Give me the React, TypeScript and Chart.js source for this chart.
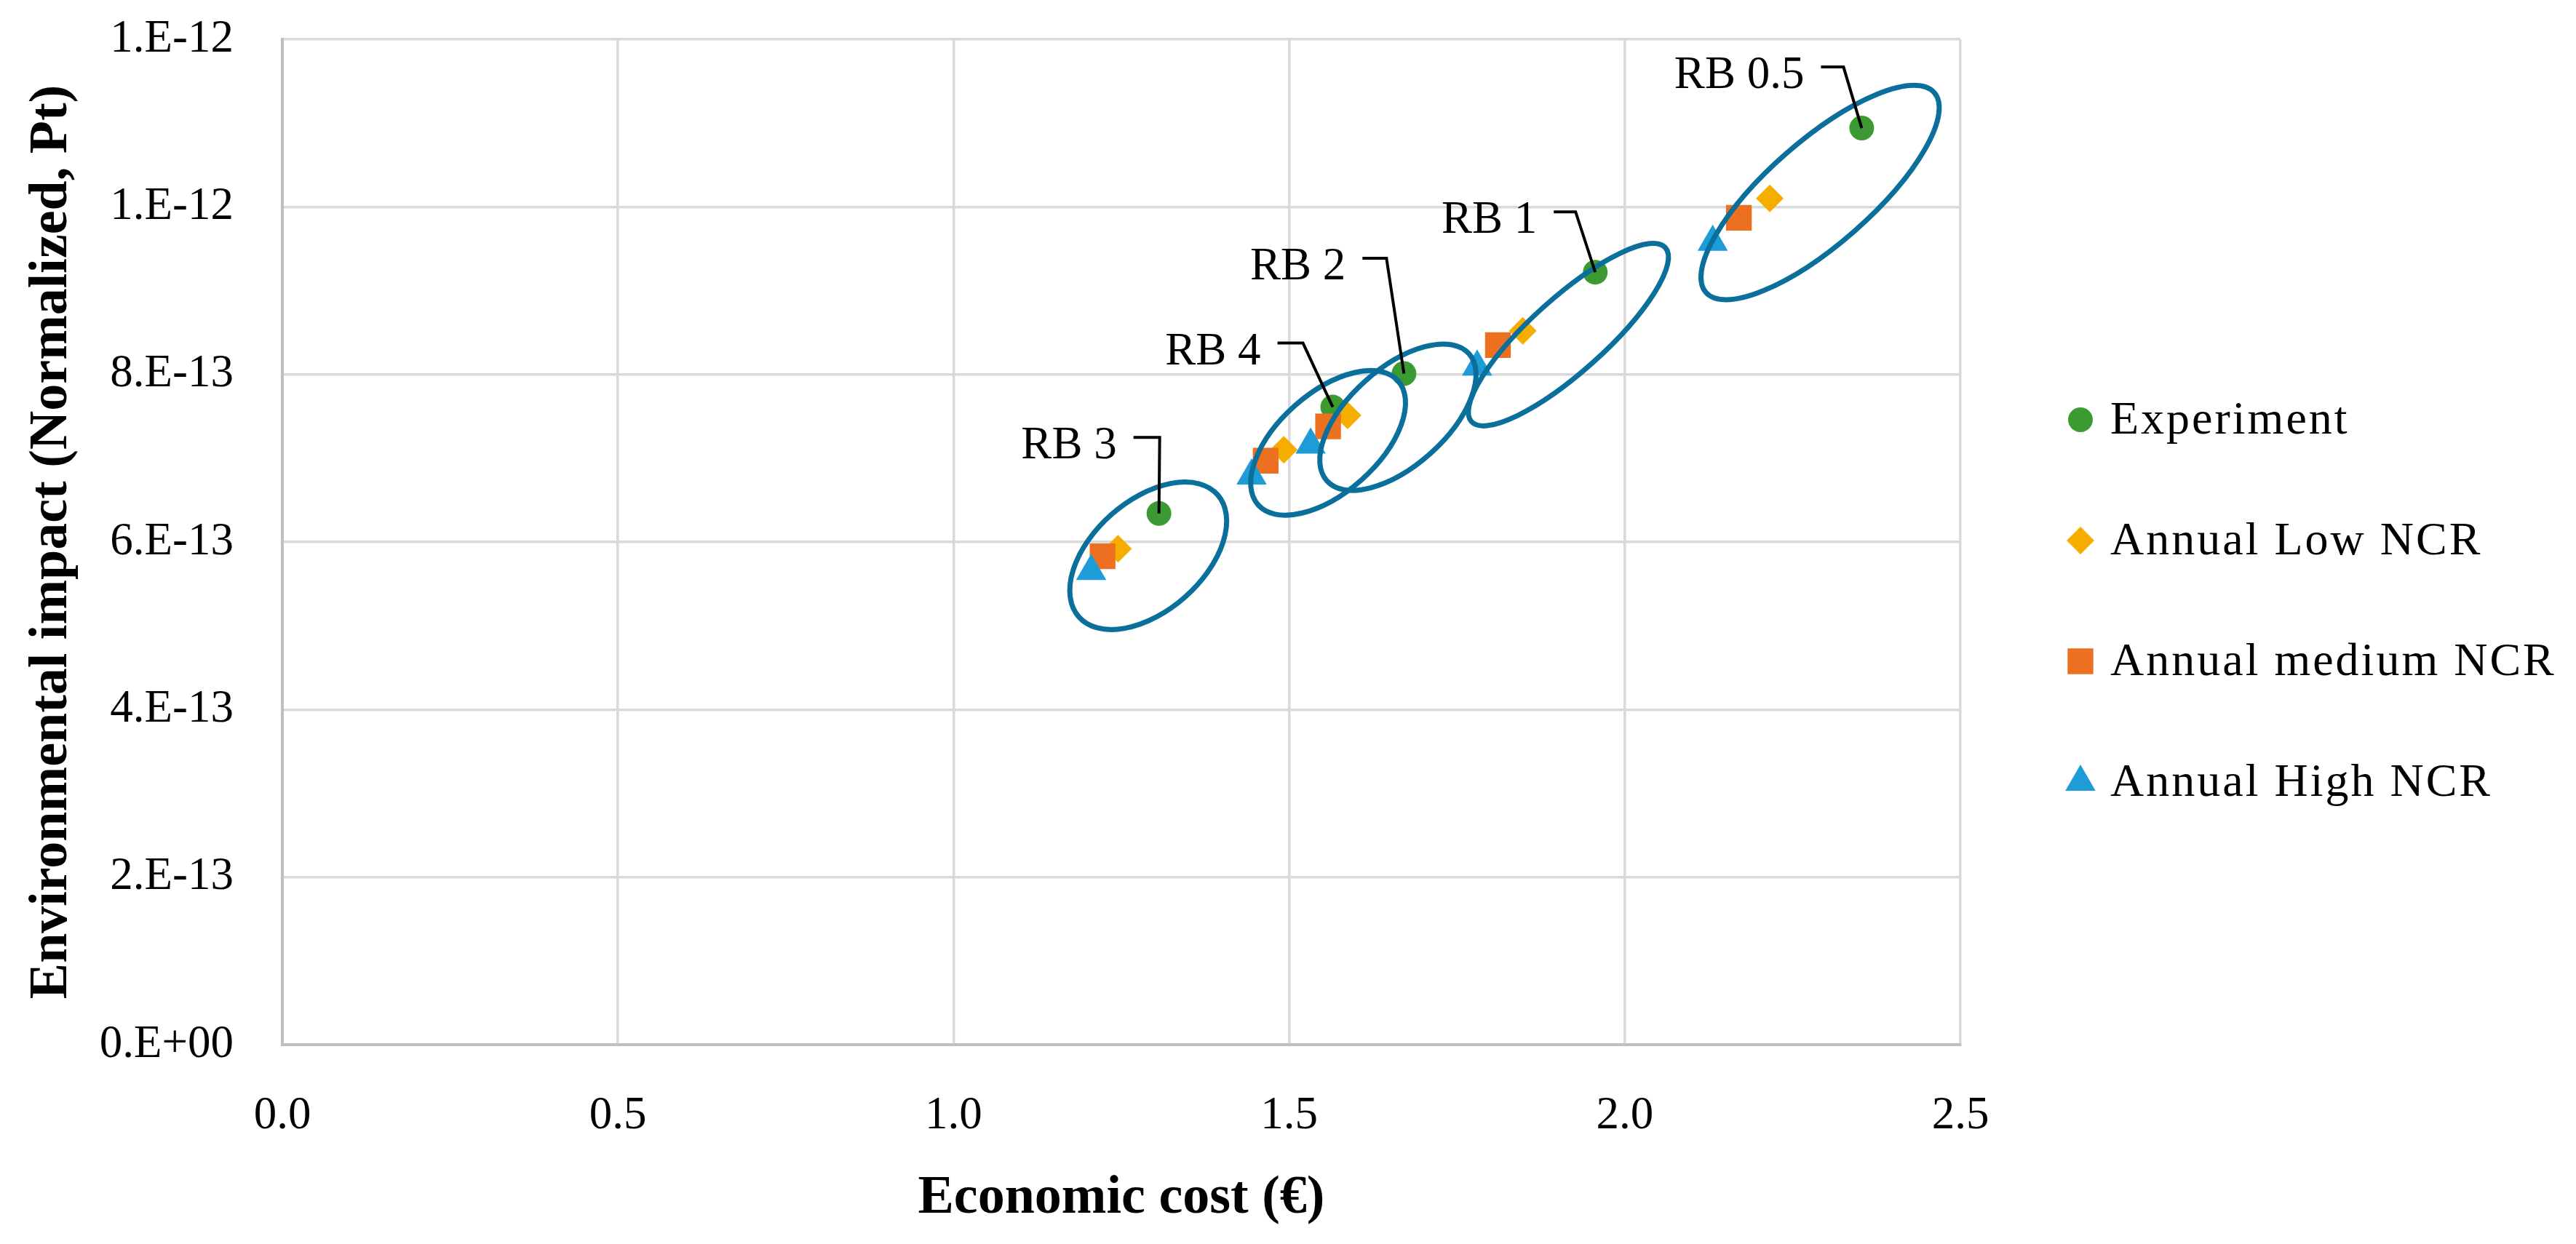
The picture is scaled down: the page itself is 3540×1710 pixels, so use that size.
import React, { useEffect, useRef } from 'react';
import { Chart, registerables } from 'chart.js';
import { drawPoint } from 'chart.js/helpers';

Chart.register(...registerables);

// ---------------- data ----------------
const groupLabels = ['RB 3', 'RB 4', 'RB 2', 'RB 1', 'RB 0.5'];

const experimentCost = [1.306, 1.565, 1.671, 1.956, 2.353];
const experimentImpact = [6.34e-13, 7.61e-13, 8.01e-13, 9.22e-13, 10.94e-13];

const lowNcrCost = [1.245, 1.492, 1.587, 1.848, 2.216];
const lowNcrImpact = [5.92e-13, 7.10e-13, 7.51e-13, 8.52e-13, 10.10e-13];

const mediumNcrCost = [1.222, 1.465, 1.558, 1.811, 2.170];
const mediumNcrImpact = [5.83e-13, 6.97e-13, 7.38e-13, 8.35e-13, 9.87e-13];

const highNcrCost = [1.205, 1.444, 1.532, 1.780, 2.131];
const highNcrImpact = [5.65e-13, 6.79e-13, 7.16e-13, 8.09e-13, 9.58e-13];

const seriesNames = ['Experiment', 'Annual Low NCR', 'Annual medium NCR', 'Annual High NCR'];

const xTickValues = [0, 0.5, 1.0, 1.5, 2.0, 2.5];
const xTickLabels = ['0.0', '0.5', '1.0', '1.5', '2.0', '2.5'];
const yTickValues = [0, 2e-13, 4e-13, 6e-13, 8e-13, 1e-12, 1.2e-12];
const yTickLabels = ['0.E+00', '2.E-13', '4.E-13', '6.E-13', '8.E-13', '1.E-12', '1.E-12'];

// centres of the grouping ellipses (data units)
const ellipseCenterCost = [1.290, 1.558, 1.662, 1.916, 2.291];
const ellipseCenterImpact = [5.835e-13, 7.183e-13, 7.489e-13, 8.475e-13, 10.171e-13];

// ---------------- styling / layout ----------------
const W = 3540;
const H = 1710;
const FONT = "'Liberation Serif', 'Times New Roman', serif";

const ellipseShapes = [
  { a: 127, b: 76, deg: 41.3 },
  { a: 128.5, b: 68.5, deg: 41.5 },
  { a: 131, b: 67, deg: 41.8 },
  { a: 179, b: 51, deg: 41.9 },
  { a: 208.5, b: 71, deg: 41.2 },
];

const leaderShapes = [
  { dx: 1, dy: -104.5, h: 36 },
  { dx: -41, dy: -88, h: 35 },
  { dx: -24, dy: -158.5, h: 33 },
  { dx: -27, dy: -83, h: 30 },
  { dx: -25, dy: -84, h: 31 },
];

const toPoints = (xs: number[], ys: number[]) => xs.map((x, i) => ({ x, y: ys[i] }));

const annotationPlugin = {
  id: 'groupAnnotations',
  afterDatasetsDraw(chart: any) {
    const { ctx, scales } = chart;
    const xs = scales.x;
    const ys = scales.y;
    ctx.save();
    // ellipses
    ctx.strokeStyle = '#0B6F9C';
    ctx.lineWidth = 7;
    ellipseCenterCost.forEach((cx, i) => {
      const px = xs.getPixelForValue(cx);
      const py = ys.getPixelForValue(ellipseCenterImpact[i]);
      const s = ellipseShapes[i];
      ctx.beginPath();
      ctx.ellipse(px, py, s.a, s.b, (-s.deg * Math.PI) / 180, 0, Math.PI * 2);
      ctx.stroke();
    });
    // leaders + labels
    ctx.strokeStyle = '#000000';
    ctx.lineWidth = 4;
    ctx.lineJoin = 'miter';
    ctx.fillStyle = '#000000';
    ctx.font = `63px ${FONT}`;
    ctx.textAlign = 'right';
    ctx.textBaseline = 'alphabetic';
    experimentCost.forEach((c, i) => {
      const px = xs.getPixelForValue(c);
      const py = ys.getPixelForValue(experimentImpact[i]);
      const l = leaderShapes[i];
      const ex = px + l.dx;
      const ey = py + l.dy;
      ctx.beginPath();
      ctx.moveTo(ex - l.h, ey);
      ctx.lineTo(ex, ey);
      ctx.lineTo(px, py);
      ctx.stroke();
      ctx.fillText(groupLabels[i], ex - l.h - 23, ey + 29);
    });
    ctx.restore();
  },
};

const legendPlugin = {
  id: 'sideLegend',
  afterDraw(chart: any) {
    const { ctx } = chart;
    ctx.save();
    ctx.font = `64px ${FONT}`;
    ctx.textAlign = 'left';
    ctx.textBaseline = 'middle';
    try {
      (ctx as any).letterSpacing = '3px';
    } catch (e) {
      /* ignore */
    }
    chart.data.datasets.forEach((ds: any, i: number) => {
      const y = 577 + i * 166;
      const x = 2859;
      ctx.fillStyle = ds.backgroundColor;
      drawPoint(ctx, { pointStyle: ds.pointStyle, radius: ds.pointRadius, rotation: 0, borderWidth: 0 }, x, y);
      ctx.fillStyle = '#000000';
      ctx.fillText(ds.label, 2900, y + 2);
    });
    ctx.restore();
  },
};

export default function App() {
  const ref = useRef<HTMLCanvasElement | null>(null);

  useEffect(() => {
    if (!ref.current) return;
    const chart = new Chart(ref.current, {
      type: 'scatter',
      data: {
        datasets: [
          {
            label: seriesNames[0],
            data: toPoints(experimentCost, experimentImpact),
            pointStyle: 'circle',
            pointRadius: 17,
            backgroundColor: '#3C9A33',
            borderWidth: 0,
            order: 4,
          },
          {
            label: seriesNames[1],
            data: toPoints(lowNcrCost, lowNcrImpact),
            pointStyle: 'rectRot',
            pointRadius: 19,
            backgroundColor: '#F5AE00',
            borderWidth: 0,
            order: 3,
          },
          {
            label: seriesNames[2],
            data: toPoints(mediumNcrCost, mediumNcrImpact),
            pointStyle: 'rect',
            pointRadius: 25,
            backgroundColor: '#ED7021',
            borderWidth: 0,
            order: 2,
          },
          {
            label: seriesNames[3],
            data: toPoints(highNcrCost, highNcrImpact),
            pointStyle: 'triangle',
            pointRadius: 24,
            backgroundColor: '#1E9CD8',
            borderWidth: 0,
            order: 1,
          },
        ] as any,
      },
      options: {
        responsive: false,
        animation: false,
        devicePixelRatio: 1,
        layout: { padding: { top: 54, right: W - 2694, bottom: 0, left: 0 } },
        plugins: {
          legend: { display: false },
          tooltip: { enabled: false },
        },
        elements: { point: { borderWidth: 0, hoverRadius: 0 } },
        scales: {
          x: {
            type: 'linear',
            min: 0,
            max: 2.5,
            afterBuildTicks: (s: any) => {
              s.ticks = xTickValues.map((v) => ({ value: v }));
            },
            afterFit: (s: any) => {
              s.height = H - 1436;
              s.paddingLeft = 0;
              s.paddingRight = 0;
            },
            ticks: {
              autoSkip: false,
              maxRotation: 0,
              padding: 61,
              color: '#000000',
              font: { family: FONT, size: 63 },
              callback: (_v: any, i: number) => xTickLabels[i],
            },
            grid: { color: '#D9D9D9', lineWidth: 3.5, drawTicks: false },
            border: { display: true, color: '#BFBFBF', width: 4 },
            title: {
              display: true,
              text: 'Economic cost (€)',
              color: '#000000',
              font: { family: FONT, size: 74, weight: 'bold' },
              padding: { top: 0, bottom: 18 },
            },
          },
          y: {
            type: 'linear',
            min: 0,
            max: 1.2e-12,
            afterBuildTicks: (s: any) => {
              s.ticks = yTickValues.map((v) => ({ value: v }));
            },
            afterFit: (s: any) => {
              s.width = 388;
              s.paddingTop = 0;
              s.paddingBottom = 0;
            },
            ticks: {
              padding: 67,
              color: '#000000',
              font: { family: FONT, size: 63 },
              callback: (_v: any, i: number) => yTickLabels[i],
            },
            grid: { color: '#D9D9D9', lineWidth: 3.5, drawTicks: false },
            border: { display: true, color: '#BFBFBF', width: 4 },
            title: {
              display: true,
              text: 'Environmental impact (Normalized, Pt)',
              color: '#000000',
              font: { family: FONT, size: 74, weight: 'bold' },
              padding: { top: 27, bottom: 0 },
            },
          },
        },
      } as any,
      plugins: [annotationPlugin, legendPlugin],
    });
    return () => chart.destroy();
  }, []);

  return (
    <div style={{ position: 'fixed', left: 0, top: 0, width: W, height: H, background: '#ffffff' }}>
      <canvas ref={ref} width={W} height={H} style={{ display: 'block', width: W, height: H }} />
    </div>
  );
}
